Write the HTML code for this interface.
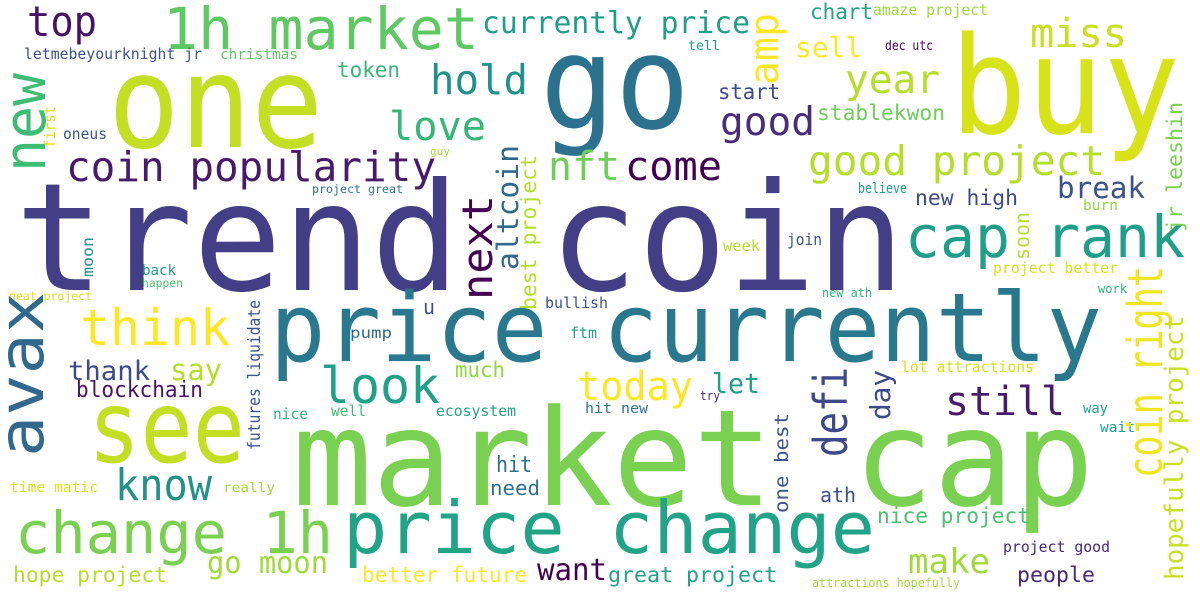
<!DOCTYPE html>
<html><head><meta charset="utf-8">
<style>
html,body{margin:0;padding:0;background:#fff;}
svg{display:block;}
text{font-family:"DejaVu Sans Mono","Liberation Mono",monospace;}
</style></head>
<body>
<svg id="cloud" width="1200" height="600" viewBox="0 0 1200 600" xmlns="http://www.w3.org/2000/svg">
<rect width="1200" height="600" fill="#ffffff"/>
</svg>
<script>
const words = ["trend coin","go","one","buy","1h market","top","currently price","chart","amaze project","miss","letmebeyourknight jr","christmas","token","hold","tell","dec utc","sell","year","start","stablekwon","good","love","oneus","guy","coin popularity","nft","come","good project","break","new high","believe","burn","project great","cap rank","join","week","project better","new ath","work","back","happen","geat project","u","think","price currently","thank","say","blockchain","pump","bullish","ftm","look","still","today","let","much","lot attractions","try","nice","well","ecosystem","hit new","way","wait","market cap","see","know","hit","need","time matic","really","ath","nice project","change 1h","price change","make","project good","go moon","want","great project","hope project","better future","people","attractions hopefully",
"new","first","next","altcoin","best project","amp","jr leeshin","soon","moon","avax","futures liquidate","defi","day","one best","coin right","hopefully project"];
const xs = [15,540,108,950,163,27,482,810,873,1030,24,220,337,430,688,885,795,845,718,817,720,389,63,430,66,548,625,808,1057,915,858,1083,312,905,787,723,993,822,1098,142,142,9,423,80,270,68,170,76,350,545,570,320,945,577,712,455,901,700,273,331,436,585,1083,1100,292,88,115,496,490,10,223,820,877,15,343,908,1003,207,537,608,13,362,1017,812,
45,55,492,518,536,778,1182,1029,93,43,260,847,890,788,1162,1183];
const ys = [290,128,147,133,49,36,33,19,15,47,59,59,77,94,50,50,57,93,99,120,135,140,139,155,181,180,180,175,198,205,193,210,193,257,245,251,273,297,293,275,287,300,314,345,361,380,380,397,338,308,338,403,415,400,393,377,372,400,419,416,416,413,413,432,505,462,500,472,495,492,492,502,523,553,553,573,552,573,580,582,582,582,582,587,
172,148,300,270,310,85,232,260,277,457,450,457,420,513,478,580];
const sizes = [150,130,128,135,58,42,30,21,15,40,15,14,21,41,13,13,28,39,21,21,39,40,15,11,41,40,40,41,29,21,14,14,11.5,58,16,15,15,12,12,14,11.5,11.5,20,50,95,27,29,22,15,15,15,50,40,40,28,21,15,12,15,15,15,14,14,14,134,100,44,22,20,14,13,20,21,58,72,34,15,30,30,21.6,21.6,21.6,21.6,12,
58,15,42,29,21,40,21,20,15,62,17,46,28,19,48,26];
const lens = [890,150,215,230,316,70,268,63,115,97,178,78,63,98,32,48,67,95,62,128,95,97,44,20,370,72,97,297,88,103,49,35,91,280,35,37,125,50,29,34,41,83,12,150,832,82,52,127,42,63,27,120,120,116,48,50,133,20,35,35,80,63,25,35,802,157,97,36,50,88,52,36,153,318,532,82,107,121,70,169,154,165,78,148,
99,42,105,125,155,72,130,48,40,165,150,90,50,100,212,265];
const colors = ["#433e85","#2c728e","#c2df23","#d8e219","#5ec962","#471365","#1f9e89","#20a386","#a0da39","#c8e020","#3b528b","#5ec962","#35b779","#21918c","#1f9e89","#440154","#fde725","#b5de2b","#3e4989","#6ece58","#472d7b","#35b779","#3b528b","#a0da39","#481a6c","#6ece58","#440154","#b5de2b","#3b528b","#3e4989","#1f9e89","#8fd744","#2c728e","#1f9e89","#3b528b","#b5de2b","#d8e219","#2fb47c","#2fb47c","#1f9e89","#4ac16d","#d8e219","#3b528b","#fde725","#2a788e","#3e4989","#b5de2b","#471365","#31688e","#3b528b","#20a386","#1fa187","#481a6c","#fde725","#1f9e89","#8fd744","#d8e219","#482878","#2fb47c","#3fbc73","#20a386","#2c728e","#20a386","#1f9e89","#7ad151","#c2df23","#21918c","#2c728e","#2c728e","#d8e219","#a0da39","#3b528b","#4ac16d","#7ad151","#20a386","#a0da39","#482878","#a0da39","#440154","#20a386","#b5de2b","#fde725","#482878","#a0da39",
"#3fbc73","#d8e219","#440154","#31688e","#b5de2b","#fde725","#7ad151","#b5de2b","#21918c","#31688e","#3b528b","#3e4989","#3e4989","#3b528b","#f1e51d","#c8e020"];
const verticalFrom = 84;

const svg = document.getElementById('cloud');
const NS = 'http://www.w3.org/2000/svg';
for (let i = 0; i < words.length; i++) {
  const t = document.createElementNS(NS, 'text');
  t.textContent = words[i];
  t.setAttribute('font-size', sizes[i]);
  t.setAttribute('fill', colors[i]);
  t.setAttribute('textLength', lens[i]);
  t.setAttribute('lengthAdjust', 'spacingAndGlyphs');
  if (i >= verticalFrom) {
    t.setAttribute('transform', 'translate(' + xs[i] + ',' + ys[i] + ') rotate(-90)');
    t.setAttribute('x', 0);
    t.setAttribute('y', 0);
  } else {
    t.setAttribute('x', xs[i]);
    t.setAttribute('y', ys[i]);
  }
  
  
  svg.appendChild(t);
}
</script>
</body></html>
